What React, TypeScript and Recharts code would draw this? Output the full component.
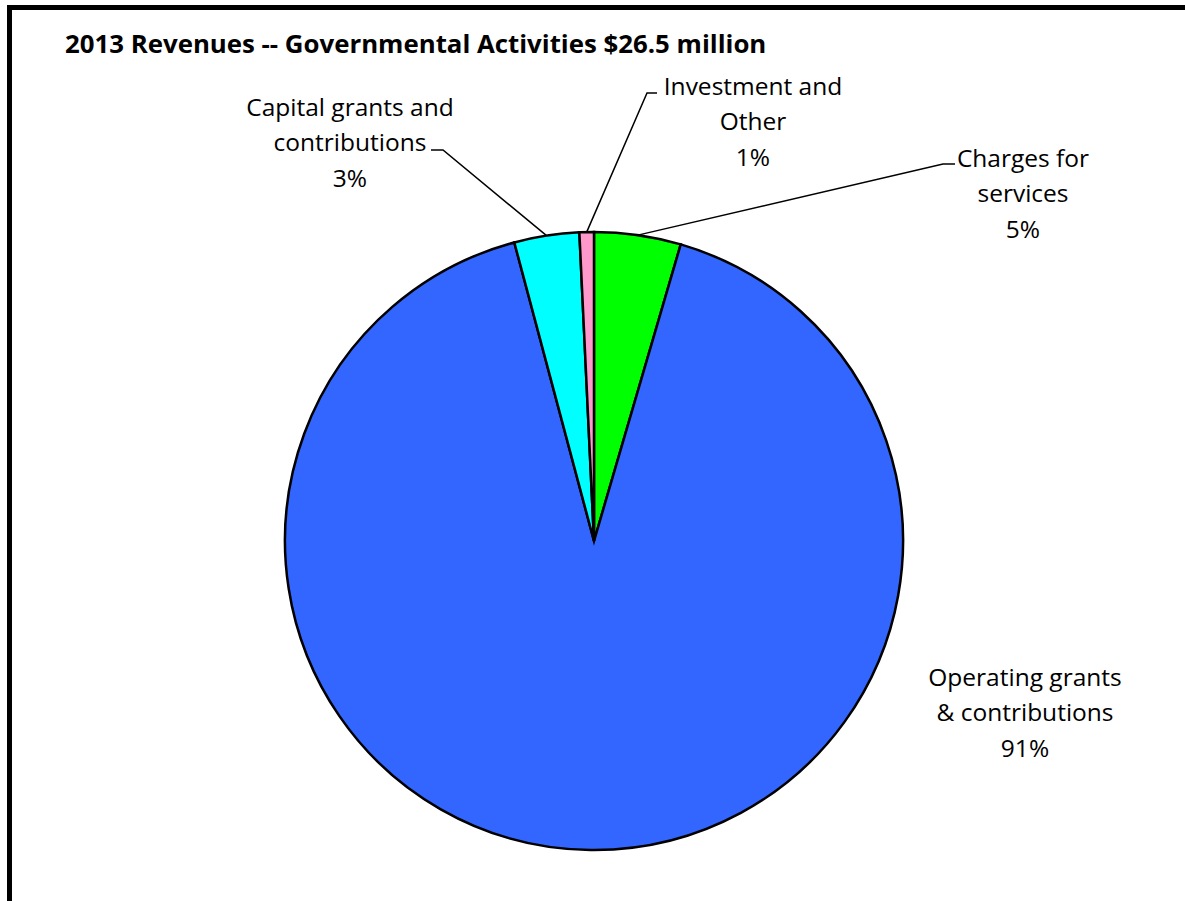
import React from "react";
import { PieChart, Pie, Cell } from "recharts";

const categories = [
  "Charges for\nservices",
  "Operating grants\n& contributions",
  "Capital grants and\ncontributions",
  "Investment and\nOther",
];
const values = [1.2, 24.2, 0.9, 0.2];
const colors = ["#00FF00", "#3366FF", "#00FFFF", "#FF99CC"];
const title = "2013 Revenues -- Governmental Activities $26.5 million";

// label layout (leader elbow / end point, text center and first line center)
const labelLayout = [
  { line: [[943, 164], [955, 164]], textX: 1023, textY: 157 },
  { line: null, textX: 1025, textY: 676 },
  { line: [[443, 150], [431, 150]], textX: 350, textY: 106 },
  { line: [[647, 93], [657, 93]], textX: 753, textY: 85 },
];

const data = categories.map((name, i) => ({ name, value: values[i] }));

const FONT = "'Open Sans', sans-serif";
const RAD = Math.PI / 180;

const renderLabel = (props: any) => {
  const { cx, cy, midAngle, outerRadius, percent, index } = props;
  const lay = labelLayout[index];
  const lines = categories[index].split("\n");
  lines.push(`${Math.round(percent * 100)}%`);
  const sx = cx + outerRadius * Math.cos(-midAngle * RAD);
  const sy = cy + outerRadius * Math.sin(-midAngle * RAD);
  return (
    <g key={`lbl-${index}`}>
      {lay.line && (
        <polyline
          points={[[sx, sy], ...lay.line].map((p) => p.join(",")).join(" ")}
          fill="none"
          stroke="#000"
          strokeWidth={1.5}
        />
      )}
      {lines.map((t, j) => (
        <text
          key={j}
          x={lay.textX}
          y={lay.textY + j * 35.5}
          textAnchor="middle"
          dominantBaseline="central"
          fontFamily={FONT}
          fontSize={24.5}
          fill="#000"
        >
          {t}
        </text>
      ))}
    </g>
  );
};

export default function App() {
  return (
    <div
      style={{
        position: "absolute",
        left: 0,
        top: 0,
        width: 1185,
        height: 901,
        overflow: "hidden",
        background: "#fff",
      }}
    >
      <div
        style={{
          position: "absolute",
          left: 7,
          top: 5,
          width: 1200,
          height: 1000,
          border: "5px solid #000",
          boxSizing: "border-box",
        }}
      />
      <div
        style={{
          position: "absolute",
          left: 65,
          top: 26,
          fontFamily: FONT,
          fontWeight: "bold",
          fontSize: 25.8,
          lineHeight: "34px",
          color: "#000",
          whiteSpace: "nowrap",
        }}
      >
        {title}
      </div>
      <div style={{ position: "absolute", left: 0, top: 0 }}>
        <PieChart width={1185} height={901} margin={{ top: 0, right: 0, bottom: 0, left: 0 }}>
          <Pie
            data={data}
            dataKey="value"
            nameKey="name"
            cx={594}
            cy={541}
            outerRadius={309}
            startAngle={90}
            endAngle={-270}
            stroke="#000"
            strokeWidth={2.5}
            isAnimationActive={false}
            labelLine={false}
            label={renderLabel}
          >
            {data.map((d, i) => (
              <Cell key={d.name} fill={colors[i]} />
            ))}
          </Pie>
        </PieChart>
      </div>
    </div>
  );
}
